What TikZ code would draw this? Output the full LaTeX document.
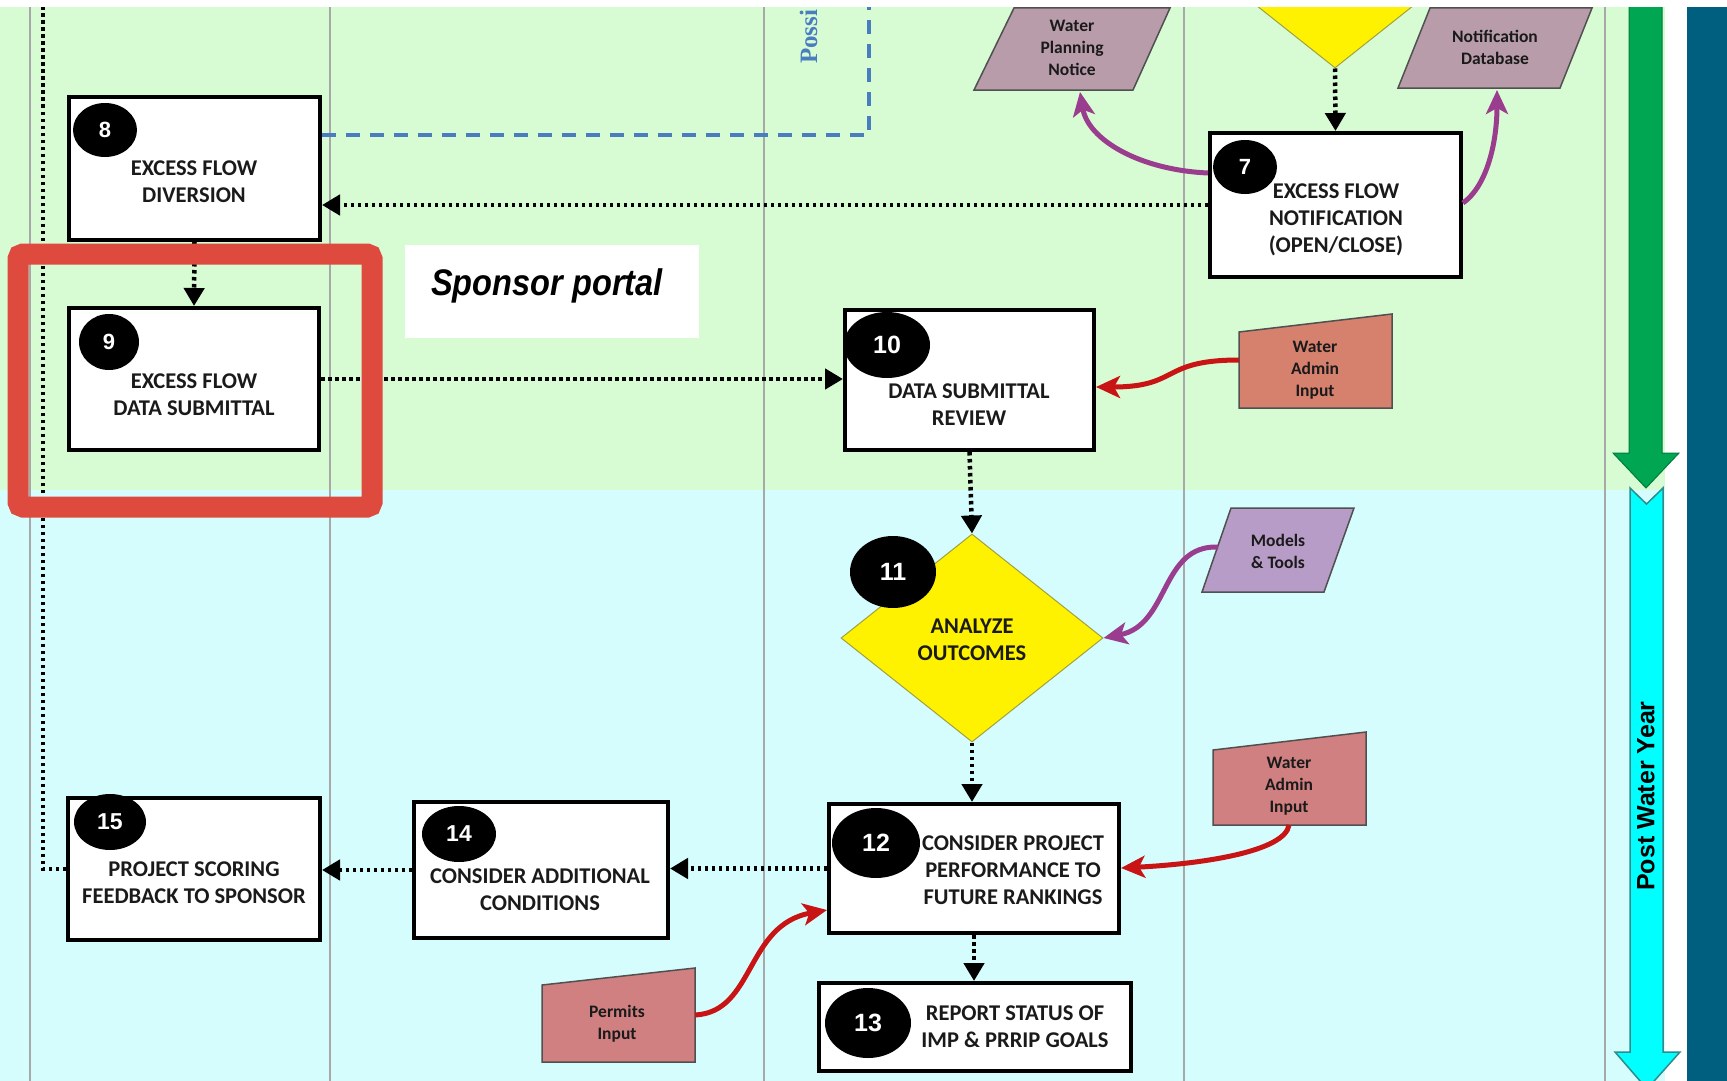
\documentclass[tikz,border=0pt]{standalone}
\usepackage{fontspec}
\setmainfont{Carlito}
\newfontfamily\numfont{Liberation Sans}
\newfontfamily\portalfont[FakeStretch=0.88]{Liberation Sans}
\newfontfamily\notefont{Liberation Serif}
\usetikzlibrary{arrows.meta,shapes.geometric}

\definecolor{bggreen}{HTML}{D7FBD3}
\definecolor{bgcyan}{HTML}{D5FDFD}
\definecolor{lanegray}{HTML}{A8A8A8}
\definecolor{arrowgreen}{HTML}{00A651}
\definecolor{arrowcyan}{HTML}{00FFFF}
\definecolor{cyanedge}{HTML}{2E8C8C}
\definecolor{tealbar}{HTML}{005F7F}
\definecolor{framered}{HTML}{DE4A3E}
\definecolor{dashblue}{HTML}{4A7CC0}
\definecolor{mauve}{HTML}{B89CA9}
\definecolor{lavender}{HTML}{B69CC6}
\definecolor{salmon}{HTML}{D6806E}
\definecolor{rose}{HTML}{D08080}
\definecolor{purplearr}{HTML}{9A3D8E}
\definecolor{redarr}{HTML}{C81414}
\definecolor{diamondedge}{HTML}{A0A040}
\definecolor{shapeedge}{HTML}{505050}
\definecolor{boxink}{HTML}{1A1A1A}

\tikzset{
  procbox/.style={draw=black, line width=4pt, fill=white, inner sep=0pt},
  boxtext/.style={font=\bfseries\fontsize{22.5}{27}\selectfont, text=boxink, align=center, inner sep=0pt},
  smalltext/.style={font=\bfseries\fontsize{17.5}{22}\selectfont, text=boxink, align=center, inner sep=0pt},
  numdot/.style={ellipse, fill=black, text=white, inner sep=0pt},
  numfont/.style={font=\numfont\bfseries\fontsize{#1}{#1}\selectfont},
  decision/.style={diamond, fill=yellow, draw=diamondedge, line width=1pt, inner sep=0pt,
    minimum width=262pt, minimum height=208pt},
  flow/.style={line width=4.5pt, dash pattern=on 3.5pt off 3.5pt,
    -{Triangle[length=18pt,width=20pt]}},
  flowplain/.style={line width=4.5pt, dash pattern=on 3.5pt off 3.5pt},
  datashape/.style={draw=shapeedge, line width=1.5pt},
  purplelink/.style={draw=purplearr, line width=5pt,
    -{Stealth[length=24pt,width=22pt,inset=6pt]}},
  redlink/.style={draw=redarr, line width=5pt,
    -{Stealth[length=24pt,width=22pt,inset=6pt]}},
  lane/.style={draw=lanegray, line width=2pt}
}

\begin{document}
\begin{tikzpicture}[x=1pt,y=-1pt]
\useasboundingbox (0,0) rectangle (1727,1081);
\fill[white] (0,0) rectangle (1727,1081);

\begin{scope}
\clip (0,8) rectangle (1727,1081);

% swim-lane backgrounds
\fill[bggreen] (0,0) rectangle (1665,490);
\fill[bgcyan] (0,490) rectangle (1665,1081);
\fill[tealbar] (1687,0) rectangle (1727,1081);
\foreach \x in {30,330,764,1184,1605}
  \draw[lane] (\x,0) -- (\x,1081);

% phase arrows
\filldraw[fill=arrowgreen, draw=arrowgreen!75!black, line width=1pt]
  (1629,0) -- (1662,0) -- (1662,453) -- (1679,453) -- (1646,488)
  -- (1613,453) -- (1629,453) -- cycle;
\filldraw[fill=arrowcyan, draw=cyanedge, line width=1.5pt]
  (1630,488) -- (1646.5,504) -- (1663,488) -- (1663,1052) -- (1680,1052)
  -- (1647,1089) -- (1615,1052) -- (1630,1052) -- cycle;
\node[rotate=90, numfont=25, text=black, inner sep=0pt] (pwy) at (1646,796) {Post Water Year};

% portal label
\node[fill=white, minimum width=294pt, minimum height=93pt, inner sep=0pt] (portal) at (552,291.5) {};
\node[anchor=base, inner sep=0pt, font=\portalfont\bfseries\itshape\fontsize{37}{40}\selectfont] (portaltext) at (547,295) {Sponsor portal};

% dashed optional path
\node[rotate=90, anchor=base west, inner sep=0pt, text=dashblue,
      font=\notefont\bfseries\fontsize{25}{28}\selectfont] (possnote) at (817,64) {Possi};

% decisions
\node[decision] (d6) at (1335,-36) {};
\node[decision] (d11) at (972,638) {};
\node[boxtext] (t11) at (972,640) {ANALYZE\\OUTCOMES};

% process boxes
\node[procbox, minimum width=251pt, minimum height=144pt] (b7) at (1335.5,205) {};
\node[procbox, minimum width=251pt, minimum height=143pt] (b8) at (194.5,168.5) {};
\node[procbox, minimum width=250pt, minimum height=142pt] (b9) at (194,379) {};
\node[procbox, minimum width=249pt, minimum height=140pt] (b10) at (969.5,380) {};
\node[procbox, minimum width=290pt, minimum height=129pt] (b12) at (974,868.5) {};
\node[procbox, minimum width=312pt, minimum height=88pt] (b13) at (975,1027) {};
\node[procbox, minimum width=254pt, minimum height=136pt] (b14) at (541,870) {};
\node[procbox, minimum width=252pt, minimum height=142pt] (b15) at (194,869) {};

\node[boxtext] (t7) at (1336,220) {EXCESS FLOW\\NOTIFICATION\\(OPEN/CLOSE)};
\node[boxtext] (t8) at (194,182) {EXCESS FLOW\\DIVERSION};
\node[boxtext] (t9) at (194,395) {EXCESS FLOW\\DATA SUBMITTAL};
\node[boxtext] (t10) at (969,405) {DATA SUBMITTAL\\REVIEW};
\node[boxtext] (t12) at (1013,870) {CONSIDER PROJECT\\PERFORMANCE TO\\FUTURE RANKINGS};
\node[boxtext] (t13) at (1015,1027) {REPORT STATUS OF\\IMP \& PRRIP GOALS};
\node[boxtext] (t14) at (540,890) {CONSIDER ADDITIONAL\\CONDITIONS};
\node[boxtext] (t15) at (194,883) {PROJECT SCORING\\FEEDBACK TO SPONSOR};

% step numbers
\node[numdot, numfont=22, minimum width=64pt, minimum height=54pt] (n7) at (1245,167) {7};
\node[numdot, numfont=22, minimum width=64pt, minimum height=54pt] (n8) at (105,130) {8};
\node[numdot, numfont=22, minimum width=60pt, minimum height=56pt] (n9) at (109,342) {9};
\node[numdot, numfont=25, minimum width=86pt, minimum height=66pt] (n10) at (887,345) {10};
\node[numdot, numfont=25, minimum width=86pt, minimum height=72pt] (n11) at (893,572) {11};
\node[numdot, numfont=25, minimum width=88pt, minimum height=70pt] (n12) at (876,843) {12};
\node[numdot, numfont=25, minimum width=86pt, minimum height=70pt] (n13) at (868,1023) {13};
\node[numdot, numfont=23, minimum width=74pt, minimum height=56pt] (n14) at (459,834) {14};
\node[numdot, numfont=23, minimum width=72pt, minimum height=56pt] (n15) at (110,822) {15};

% data and input shapes
\path[datashape, fill=mauve] (1014,8) -- (1170,8) -- (1133,90) -- (974,90) -- cycle;
\node[smalltext] (wpn) at (1072,48) {Water\\Planning\\Notice};
\coordinate (wpnIn) at (1080,92);
\path[datashape, fill=mauve] (1430,8) -- (1592,8) -- (1560,88) -- (1398,88) -- cycle;
\node[smalltext] (ndb) at (1495,47) {Notification\\Database};
\coordinate (ndbIn) at (1497,90);
\path[datashape, fill=salmon] (1239,332) -- (1392,314) -- (1392,408) -- (1239,408) -- cycle;
\node[smalltext] (wai1) at (1315,370) {Water\\Admin\\Input};
\coordinate (wai1Out) at (1239,360);
\path[datashape, fill=lavender] (1231,508) -- (1354,508) -- (1324,592) -- (1202,592) -- cycle;
\node[smalltext] (mt) at (1278,551) {Models\\\& Tools};
\coordinate (mtOut) at (1218,547);
\path[datashape, fill=rose] (1213,750) -- (1366,732) -- (1366,825) -- (1213,825) -- cycle;
\node[smalltext] (wai2) at (1289,786) {Water\\Admin\\Input};
\coordinate (wai2Out) at (1289,825);
\path[datashape, fill=rose] (542,985) -- (695,968) -- (695,1062) -- (542,1062) -- cycle;
\node[smalltext] (pmt) at (617,1024) {Permits\\Input};
\coordinate (pmtOut) at (695,1015);

% dotted process flow
\draw[flow] (d6.south) -- (b7.north);
\draw[flow] (b7.west) -- (b8.east |- b7.west);
\draw[flow] (b8.south) -- (b9.north);
\draw[flow] (b9.east) -- (b10.west |- b9.east);
\draw[flow] (b10.south) -- (d11.north);
\draw[flow] (d11.south) -- (d11.south |- b12.north);
\draw[flow] (b12.west) -- (b14.east |- b12.west);
\draw[flow] (b14.west) -- (b15.east |- b14.west);
\draw[flow] (b12.south) -- (b12.south |- b13.north);
\coordinate (loopTop) at (43,0);
\draw[flowplain] (b15.west) -| (loopTop);

% dashed optional link
\coordinate (dashTurn) at (869,135);
\coordinate (dashEnd) at (869,0);
\draw[dashblue, line width=4pt, dash pattern=on 14pt off 10pt]
  (b8.east |- dashTurn) -- (dashTurn) -- (dashEnd);

% input and output links
\draw[purplelink] (b7.west |- 0,173) .. controls (1140,170) and (1088,140) .. (wpnIn);
\draw[purplelink] (b7.east |- 0,203) .. controls (1488,185) and (1497,140) .. (ndbIn);
\draw[redlink] (wai1Out) .. controls (1160,360) and (1180,387) .. (b10.east |- 0,387);
\draw[purplelink] (mtOut) .. controls (1160,545) and (1170,625) .. (d11.east);
\draw[redlink] (wai2Out) .. controls (1285,852) and (1200,864) .. (b12.east |- 0,868);
\draw[redlink] (pmtOut) .. controls (755,1012) and (745,925) .. (b12.west |- 0,910);

% highlight frame
\node[draw=framered, line width=21pt, rounded corners=5pt, inner sep=0pt,
      minimum width=354pt, minimum height=253pt] (focus) at (195,380.5) {};
\end{scope}
\end{tikzpicture}
\end{document}
